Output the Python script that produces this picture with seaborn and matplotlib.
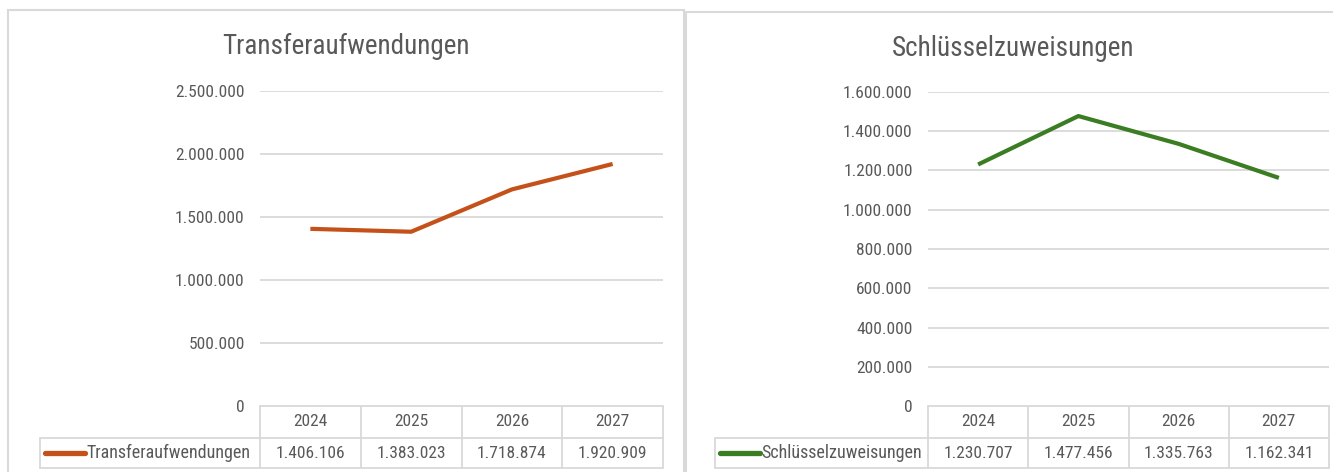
import matplotlib
matplotlib.use('Agg')
import matplotlib.pyplot as plt
import matplotlib.transforms as mtransforms
from matplotlib import font_manager
import seaborn as sns

# Daten
jahre = ['2024', '2025', '2026', '2027']
transfer = [1406106, 1383023, 1718874, 1920909]
schluessel = [1230707, 1477456, 1335763, 1162341]
transfer_ticks = [0, 500000, 1000000, 1500000, 2000000, 2500000]
schluessel_ticks = [0, 200000, 400000, 600000, 800000, 1000000, 1200000, 1400000, 1600000]

sns.set_theme(style='white')
installed = {f.name for f in font_manager.fontManager.ttflist}
family = 'DejaVu Sans'
for cand in ['Liberation Sans Narrow', 'Roboto Condensed', 'Open Sans Condensed', 'Liberation Sans']:
    if cand in installed:
        family = cand
        break
plt.rcParams['font.family'] = [family, 'DejaVu Sans']

W, H = 1333, 472
fig = plt.figure(figsize=(W / 100, H / 100), dpi=100)
txt = '#595959'
grid = '#D9D9D9'


def fmt(v):
    return f'{v:,.0f}'.replace(',', '.')


def px_rect(x0, x1, ytop, ybot):
    return [x0 / W, 1 - ybot / H, (x1 - x0) / W, (ybot - ytop) / H]


def panel(x0, x1, ytop, ybot, values, ticks, title, color, legend_left, frame, title_y):
    # Rahmen des Diagramms
    fx0, fx1, fy0 = frame
    fig.add_artist(plt.Rectangle((fx0 / W, -0.1), (fx1 - fx0) / W, 1.1 - fy0 / H,
                                 transform=fig.transFigure, fill=False,
                                 edgecolor=grid, linewidth=1.5))
    fig.text((fx0 + fx1) / 2 / W, 1 - title_y / H, title, ha='center', va='center',
             color=txt, fontsize=19.5)

    ax = fig.add_axes(px_rect(x0, x1, ytop, ybot))
    pos = list(range(len(jahre)))
    sns.lineplot(x=pos, y=values, ax=ax, color=color, linewidth=3, solid_capstyle='butt')
    ax.set_xlim(-0.5, len(jahre) - 0.5)
    ax.set_ylim(ticks[0], ticks[-1])
    ax.set_yticks(ticks)
    ax.set_yticklabels([fmt(t) for t in ticks], color=txt, fontsize=12.5)
    ax.tick_params(axis='y', length=0, pad=11)
    ax.set_xticks([])
    for s in ax.spines.values():
        s.set_visible(False)
    for t in ticks[1:]:
        ax.axhline(t, color=grid, linewidth=1.3, zorder=0)

    # Datentabelle unter der Achse
    tr = mtransforms.blended_transform_factory(ax.transData, ax.transAxes)
    h = ybot - ytop
    y_head = -32 / h
    y_row = -62 / h
    n = len(jahre)
    kw = dict(transform=tr, color=grid, linewidth=1.3, clip_on=False)
    ax.plot([-0.5, n - 0.5], [0, 0], **kw)
    ax.plot([legend_left, n - 0.5], [y_head, y_head], **kw)
    ax.plot([legend_left, n - 0.5], [y_row, y_row], **kw)
    for i in range(n + 1):
        ax.plot([i - 0.5, i - 0.5], [y_row, 0], **kw)
    ax.plot([legend_left, legend_left], [y_row, y_head], **kw)
    for i, (j, v) in enumerate(zip(jahre, values)):
        ax.text(i, y_head / 2, j, transform=tr, ha='center', va='center',
                color=txt, fontsize=12.5)
        ax.text(i, (y_head + y_row) / 2, fmt(v), transform=tr, ha='center',
                va='center', color=txt, fontsize=12.5)
    ym = (y_head + y_row) / 2
    ax.plot([legend_left + 0.05, legend_left + 0.45], [ym, ym], transform=tr,
            color=color, linewidth=3.8, solid_capstyle='round', clip_on=False)
    ax.text(legend_left + 0.46, ym, title, transform=tr, ha='left', va='center',
            color=txt, fontsize=13)
    return ax


panel(260, 663, 91, 406, transfer, transfer_ticks, 'Transferaufwendungen',
      '#C5511A', -0.5 - 220 / 100.75, (8, 684, 10), 46)
panel(928, 1329, 92, 406, schluessel, schluessel_ticks, 'Schlüsselzuweisungen',
      '#3B7D23', -0.5 - 213 / 100.25, (686, 1340, 12), 48)

fig.savefig('out.png', dpi=100, facecolor='white')
